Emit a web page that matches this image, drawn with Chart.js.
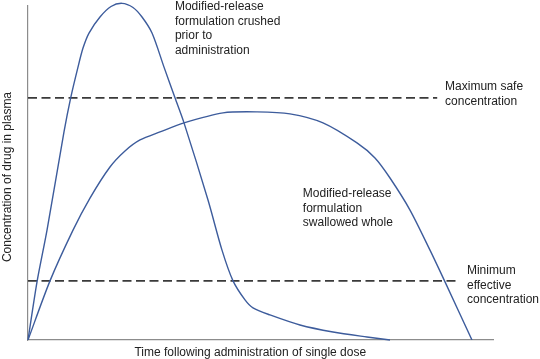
<!DOCTYPE html>
<html>
<head>
<meta charset="utf-8">
<script src="https://cdn.jsdelivr.net/npm/chart.js@4/dist/chart.umd.min.js"></script>
<style>
  html, body { margin: 0; padding: 0; background: #fff; }
  #wrap { width: 540px; height: 359px; position: relative; }
</style>
</head>
<body>
<div id="wrap"><canvas id="pkChart"></canvas></div>
<script>
// time runs 0-100, concentration 0-100 (arbitrary units, no ticks shown)
const crushedTime = [0, 1.94, 4.09, 7.74, 9.18, 10.75, 11.83, 13.12, 15.48, 17.85, 20.22, 22.58, 24.52, 26.67, 29.25, 31.61, 33.55, 38.71, 41.72, 44.09, 46.67, 48.39, 52.04, 58.49, 65.59, 72.9, 77.85];
const crushedConc = [0, 17.4, 32.9, 62.3, 72.5, 81.7, 87.4, 91.9, 96.7, 99.85, 100.8, 99.55, 96.7, 91.9, 81.7, 72.5, 65.0, 41.9, 26.9, 17.7, 12.0, 9.6, 7.5, 4.5, 2.4, 0.9, 0];

const wholeTime = [0, 4.73, 9.68, 13.33, 17.63, 20.86, 24.09, 28.39, 33.55, 41.94, 49.25, 56.34, 63.44, 70.75, 74.62, 77.85, 82.15, 86.45, 89.68, 95.48];
const wholeConc = [0, 17.7, 32.9, 42.5, 51.8, 56.6, 59.9, 62.3, 65.0, 68.0, 68.3, 67.7, 65.0, 59.0, 54.5, 48.5, 38.9, 26.9, 17.4, 0];

const maxSafeLevel = 72.5;
const maxSafeEnd = 88;
const minEffectiveLevel = 17.7;
const minEffectiveEnd = 92.5;

// text labels: [time, conc] of the first line, then lines
const labelTexts = [
    { at: [31.6, 99.7], lines: ['Modified-release', 'formulation crushed', 'prior to', 'administration'] },
    { at: [89.7, 75.7], lines: ['Maximum safe', 'concentration'] },
    { at: [59.1, 43.7], lines: ['Modified-release', 'formulation', 'swallowed whole'] },
    { at: [94.4, 20.7], lines: ['Minimum', 'effective', 'concentration'] }
];
const xTitle = 'Time following administration of single dose';
const yTitle = 'Concentration of drug in plasma';

const toPoints = (xs, ys) => xs.map((x, i) => ({ x: x, y: ys[i] }));

const curveColor = '#3d5c9c';
const dashColor = '#3a3a3a';
const axisColor = '#8c8c8c';
const textFont = '12px "Liberation Sans", Arial, sans-serif';

// draws the free text and the axis titles
const textPlugin = {
    id: 'pkText',
    afterDraw(chart) {
        const ctx = chart.ctx;
        const xs = chart.scales.x, ys = chart.scales.y;
        const area = chart.chartArea;
        ctx.save();
        ctx.font = textFont;
        ctx.fillStyle = '#222';
        ctx.textBaseline = 'middle';
        ctx.textAlign = 'left';
        labelTexts.forEach(lbl => {
            const px = xs.getPixelForValue(lbl.at[0]);
            const py = ys.getPixelForValue(lbl.at[1]);
            lbl.lines.forEach((line, i) => ctx.fillText(line, px, py + i * 14.5));
        });
        ctx.textAlign = 'center';
        ctx.fillText(xTitle, xs.getPixelForValue(47.8), area.bottom + 13);
        ctx.translate(area.left - 20, (area.top + area.bottom) / 2 + 4);
        ctx.rotate(-Math.PI / 2);
        ctx.fillText(yTitle, 0, 0);
        ctx.restore();
    }
};

new Chart(document.getElementById('pkChart'), {
    type: 'line',
    data: {
        datasets: [
            {
                data: toPoints(crushedTime, crushedConc),
                borderColor: curveColor,
                borderWidth: 1.4,
                tension: 0.28,
                pointRadius: 0,
                clip: false
            },
            {
                data: toPoints(wholeTime, wholeConc),
                borderColor: curveColor,
                borderWidth: 1.4,
                tension: 0.28,
                pointRadius: 0
            },
            {
                data: [{ x: 0, y: maxSafeLevel }, { x: maxSafeEnd, y: maxSafeLevel }],
                borderColor: dashColor,
                borderWidth: 1.6,
                borderDash: [9, 4.5],
                pointRadius: 0
            },
            {
                data: [{ x: 0, y: minEffectiveLevel }, { x: minEffectiveEnd, y: minEffectiveLevel }],
                borderColor: dashColor,
                borderWidth: 1.6,
                borderDash: [9, 4.5],
                pointRadius: 0
            }
        ]
    },
    options: {
        responsive: true,
        maintainAspectRatio: false,
        animation: false,
        layout: { padding: { left: 28, right: 47, top: 6, bottom: 19 } },
        plugins: {
            legend: { display: false },
            tooltip: { enabled: false }
        },
        scales: {
            x: {
                type: 'linear',
                min: 0,
                max: 100,
                ticks: { display: false },
                grid: { display: false, drawTicks: false },
                border: { display: true, color: axisColor, width: 1.2 }
            },
            y: {
                min: 0,
                max: 100,
                ticks: { display: false },
                grid: { display: false, drawTicks: false },
                border: { display: true, color: axisColor, width: 1.2 }
            }
        }
    },
    plugins: [textPlugin]
});
</script>
</body>
</html>
